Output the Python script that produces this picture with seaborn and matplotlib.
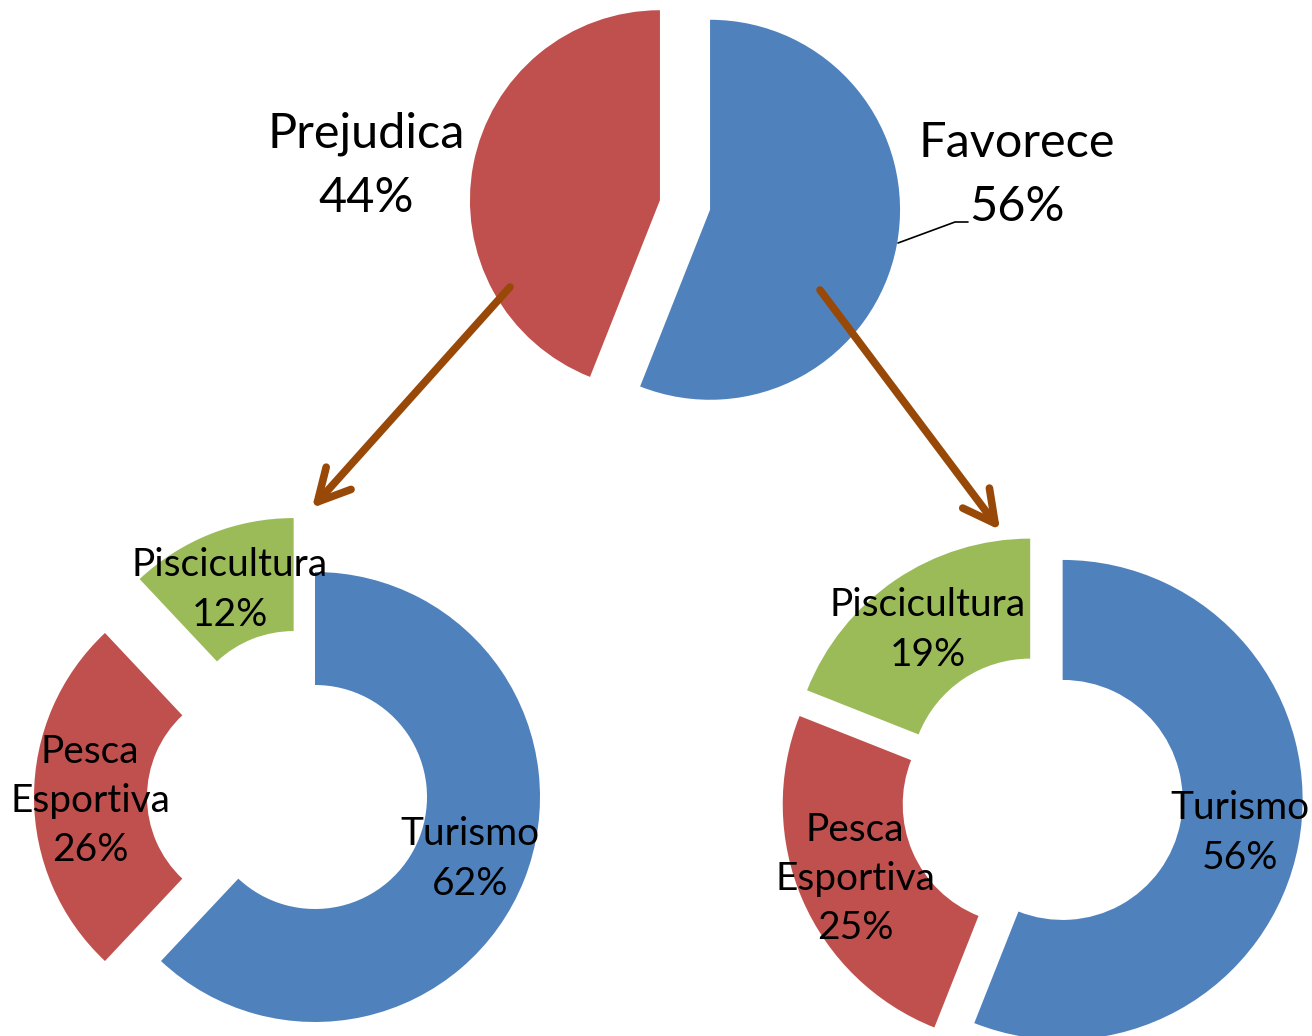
import matplotlib
matplotlib.use("Agg")
import matplotlib.pyplot as plt
import seaborn as sns

# === Dados ===
top_labels = ["Favorece", "Prejudica"]
top_values = [56, 44]

fav_labels = ["Turismo", "Pesca\nEsportiva", "Piscicultura"]
fav_values = [56, 25, 19]

prej_labels = ["Turismo", "Pesca\nEsportiva", "Piscicultura"]
prej_values = [62, 26, 12]

# === Estilo ===
sns.set_theme(style="white")
plt.rcParams["font.family"] = ["Lato", "DejaVu Sans"]

azul, vermelho, verde = "#4F81BD", "#C0504D", "#9BBB59"
seta = "#984807"
W, H = 1312, 1036


def Y(y):
    # coordenada em pixels (de cima para baixo) -> eixo y
    return H - y


fig = plt.figure(figsize=(W / 100, H / 100), dpi=100)
ax = fig.add_axes([0, 0, 1, 1])

# === 1. Pizza principal (explode em unidades de dados) ===
ax.pie(top_values, colors=[azul, vermelho], startangle=90, counterclock=False,
       explode=[25.5, 25.5], center=(685, Y(205)), radius=190,
       wedgeprops=dict(linewidth=0))

# === 2. Rosca - Prejudica ===
ax.pie(prej_values, colors=[azul, vermelho, verde], startangle=90, counterclock=False,
       explode=[0, 56, 58], center=(315, Y(797)), radius=225,
       wedgeprops=dict(width=113, linewidth=0))

# === 3. Rosca - Favorece ===
ax.pie(fav_values, colors=[azul, vermelho, verde], startangle=90, counterclock=False,
       explode=[21, 21, 21], center=(1042, Y(796)), radius=240,
       wedgeprops=dict(width=120, linewidth=0))

# === Rótulos ===
ax.text(366, Y(166), f"{top_labels[1]}\n{top_values[1]}%", ha="center", va="center",
        fontsize=35, linespacing=1.55, color="black")
ax.text(1017, Y(175), f"{top_labels[0]}\n{top_values[0]}%", ha="center", va="center",
        fontsize=35, linespacing=1.55, color="black")
ax.plot([898, 955, 968], [Y(243), Y(222), Y(222)], color="black", lw=1.2)

pos_prej = [(470, 859), (90, 801), (230, 590)]
for lab, val, (x, y) in zip(prej_labels, prej_values, pos_prej):
    ax.text(x, Y(y), f"{lab}\n{val}%", ha="center", va="center", fontsize=28,
            linespacing=1.46, color="black")

pos_fav = [(1240, 833), (855, 879), (928, 630)]
for lab, val, (x, y) in zip(fav_labels, fav_values, pos_fav):
    ax.text(x, Y(y), f"{lab}\n{val}%", ha="center", va="center", fontsize=28,
            linespacing=1.46, color="black")

# === Setas ===
estilo = dict(arrowstyle="->,head_length=1.9,head_width=1.0", lw=5.5, color=seta,
              capstyle="round", joinstyle="round", shrinkA=0, shrinkB=0)
ax.annotate("", xy=(312, Y(508)), xytext=(510, Y(287)), arrowprops=estilo)
ax.annotate("", xy=(1000, Y(530)), xytext=(820, Y(290)), arrowprops=estilo)

ax.set_xlim(0, W)
ax.set_ylim(0, H)
ax.set_aspect("equal")
ax.axis("off")

plt.savefig("out.png", dpi=100)
plt.close()
